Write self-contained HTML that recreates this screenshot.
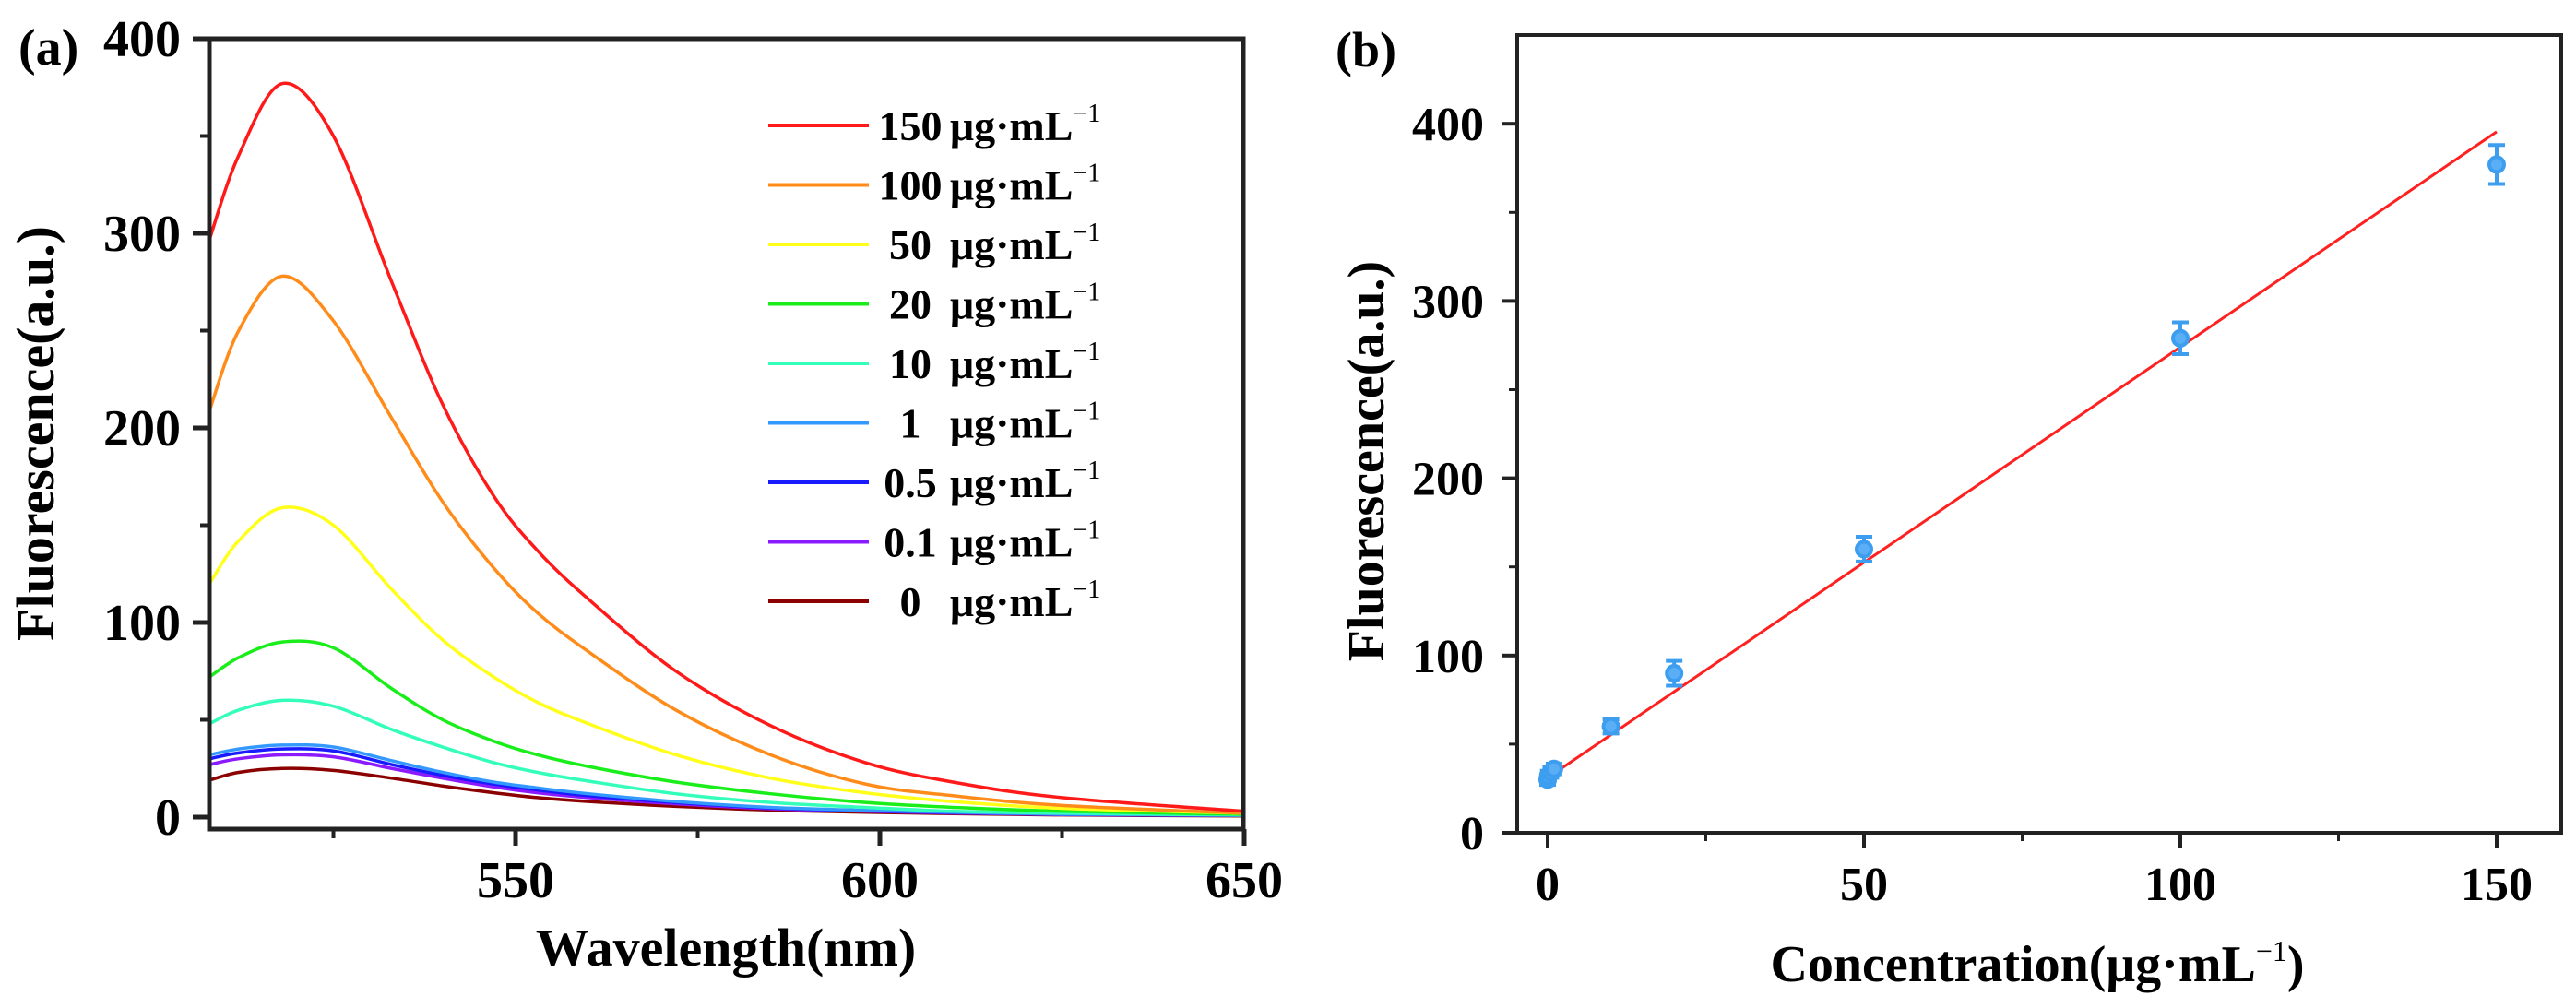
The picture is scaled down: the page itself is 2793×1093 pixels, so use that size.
<!DOCTYPE html>
<html><head><meta charset="utf-8"><style>
html,body{margin:0;padding:0;background:#fff;}
svg{display:block;font-family:"Liberation Serif",serif;font-weight:bold;}
</style></head><body>
<svg id="fig" width="2793" height="1093" viewBox="0 0 2793 1093" xmlns="http://www.w3.org/2000/svg">
<rect width="2793" height="1093" fill="#fff"/>
<g id="pa"></g>
<g id="pb"></g>
</svg>
<script>
// Panel (a) data
const waves = [508, 512, 518, 525, 533, 540, 547, 553, 560, 572, 585, 598, 610, 625, 650];
const s150 = [297, 340, 377, 350, 275, 212, 165, 137, 112, 75, 47, 28, 18, 10, 3];
const s100 = [209, 250, 278, 255, 205, 162, 128, 105, 85, 55, 32, 17, 11, 6, 2];
const s50 = [120, 142, 159, 150, 117, 91, 72, 59, 48, 32, 20, 12.5, 8, 4.5, 2];
const s20 = [72, 82, 90, 87, 66, 50, 39, 32, 26, 18, 12, 7.5, 5, 3, 1.5];
const s10 = [48, 55, 60, 57, 45, 36, 28, 23, 18.5, 12, 7.5, 5, 3, 2, 1];
const s1 = [32, 35, 37, 36, 29, 23, 18, 15, 12, 8, 5, 3.5, 2.5, 1.5, 1];
const s05 = [30, 33, 35, 34, 27, 21.5, 17, 14, 11, 7.5, 4.7, 3.2, 2.3, 1.4, 0.9];
const s01 = [27, 30, 32, 31, 25, 20, 15.5, 12.5, 10, 6.8, 4.3, 3, 2.1, 1.3, 0.8];
const s0 = [19, 23, 25, 24, 20, 16, 12.5, 10, 8, 5.5, 3.6, 2.5, 1.8, 1.1, 0.6];
const seriesLabels = ["150", "100", "50", "20", "10", "1", "0.5", "0.1", "0"];
const aYTicks = [0, 100, 200, 300, 400];
const aXTicks = [550, 600, 650];
// Panel (b) data
const concs = [0, 0.1, 0.5, 1, 10, 20, 50, 100, 150];
const fluor = [30, 32, 34, 36, 60, 90, 160, 279, 377];
const errs = [3, 3, 3, 3, 4, 7, 7, 9, 11];
const fitSlope = 2.43, fitIntercept = 31;
const bYTicks = [0, 100, 200, 300, 400];
const bXTicks = [0, 50, 100, 150];

const NS = "http://www.w3.org/2000/svg";
function mk(parent, tag, attrs, text) {
  const e = document.createElementNS(NS, tag);
  for (const k in attrs) e.setAttribute(k, attrs[k]);
  if (text !== undefined) e.textContent = text;
  parent.appendChild(e);
  return e;
}
const colors = ["#ff1a1a", "#ff8c1a", "#ffff1a", "#1aee1a", "#33ffbb", "#3399ff", "#1a1aff", "#8c1aff", "#8b0000"];
const allSeries = [s150, s100, s50, s20, s10, s1, s05, s01, s0];

// ---- Panel A ----
const pa = document.getElementById("pa");
const ax = { l: 227, r: 1348, t: 42, b: 899 };
const xA = w => 559 + (w - 550) * 7.9;
const yA = v => 886 - v * 2.11;
function smoothPath(pts) {
  let d = "M" + pts[0][0] + "," + pts[0][1];
  for (let i = 0; i < pts.length - 1; i++) {
    const p0 = pts[Math.max(i - 1, 0)], p1 = pts[i], p2 = pts[i + 1], p3 = pts[Math.min(i + 2, pts.length - 1)];
    const c1 = [p1[0] + (p2[0] - p0[0]) / 6, p1[1] + (p2[1] - p0[1]) / 6];
    const c2 = [p2[0] - (p3[0] - p1[0]) / 6, p2[1] - (p3[1] - p1[1]) / 6];
    d += "C" + c1 + " " + c2 + " " + p2;
  }
  return d;
}
for (let i = allSeries.length - 1; i >= 0; i--) {
  const pts = waves.map((w, j) => [xA(w), yA(allSeries[i][j])]);
  const p = mk(pa, "path", { d: smoothPath(pts), fill: "none", stroke: colors[i], "stroke-width": 3.5 });
  
  
}
const fa = mk(pa, "rect", { x: ax.l, y: ax.t, width: ax.r - ax.l, height: ax.b - ax.t, fill: "none", stroke: "#222", "stroke-width": 5 });


aYTicks.forEach(v => {
  mk(pa, "line", { x1: ax.l - 18, x2: ax.l, y1: yA(v), y2: yA(v), stroke: "#222", "stroke-width": 5 });
  const t = mk(pa, "text", { x: 196, y: yA(v) + 19, "text-anchor": "end", "font-size": 56 }, v);
  
  
});
[50, 150, 250, 350].forEach(v => mk(pa, "line", { x1: ax.l - 10, x2: ax.l, y1: yA(v), y2: yA(v), stroke: "#222", "stroke-width": 4 }));
aXTicks.forEach(w => {
  mk(pa, "line", { x1: xA(w), x2: xA(w), y1: ax.b, y2: ax.b + 18, stroke: "#222", "stroke-width": 5 });
  const t = mk(pa, "text", { x: xA(w), y: 973, "text-anchor": "middle", "font-size": 56 }, w);
  
  
});
[525, 575, 625].forEach(w => mk(pa, "line", { x1: xA(w), x2: xA(w), y1: ax.b, y2: ax.b + 10, stroke: "#222", "stroke-width": 4 }));
let t = mk(pa, "text", { x: 787, y: 1047, "text-anchor": "middle", "font-size": 58 }, "Wavelength(nm)");


t = mk(pa, "text", { x: 0, y: 0, transform: "translate(58,470) rotate(-90)", "text-anchor": "middle", "font-size": 58 }, "Fluorescence(a.u.)");


t = mk(pa, "text", { x: 20, y: 70, "font-size": 56 }, "(a)");


// legend
seriesLabels.forEach((lab, i) => {
  const y = 136 + i * 64.5;
  const g = mk(pa, "g", {});
  
  
  mk(g, "line", { x1: 833, x2: 942, y1: y, y2: y, stroke: colors[i], "stroke-width": 4 });
  mk(g, "text", { x: 987, y: y + 16, "text-anchor": "middle", "font-size": 46 }, lab);
  const tx = mk(g, "text", { x: 1030, y: y + 16, "font-size": 46 }, "μg·mL");
  mk(tx, "tspan", { dy: -20, "font-size": 28, "font-weight": "normal" }, "−1");
});

// ---- Panel B ----
const pb = document.getElementById("pb");
const bx = { l: 1645, r: 2777, t: 38, b: 903 };
const xB = c => 1678 + c * 6.86;
const yB = v => 903 - v * 1.922;
const fl = mk(pb, "line", { x1: xB(0), y1: yB(fitIntercept), x2: xB(150), y2: yB(fitIntercept + fitSlope * 150), stroke: "#ff2020", "stroke-width": 3 });


concs.forEach((c, i) => {
  const g = mk(pb, "g", { stroke: "#3d9ef0", "stroke-width": 4, fill: "#5aaef5" });
  
  
  const x = xB(c), y1 = yB(fluor[i] + errs[i]), y2 = yB(fluor[i] - errs[i]);
  mk(g, "line", { x1: x, x2: x, y1: y1, y2: y2 });
  mk(g, "line", { x1: x - 9, x2: x + 9, y1: y1, y2: y1 });
  mk(g, "line", { x1: x - 9, x2: x + 9, y1: y2, y2: y2 });
  mk(g, "circle", { cx: x, cy: yB(fluor[i]), r: 8 });
});
const fb = mk(pb, "rect", { x: bx.l, y: bx.t, width: bx.r - bx.l, height: bx.b - bx.t, fill: "none", stroke: "#222", "stroke-width": 4 });


bYTicks.forEach(v => {
  mk(pb, "line", { x1: bx.l - 16, x2: bx.l, y1: yB(v), y2: yB(v), stroke: "#222", "stroke-width": 4 });
  const t2 = mk(pb, "text", { x: 1609, y: yB(v) + 18, "text-anchor": "end", "font-size": 52 }, v);
  
  
});
[50, 150, 250, 350].forEach(v => mk(pb, "line", { x1: bx.l - 9, x2: bx.l, y1: yB(v), y2: yB(v), stroke: "#222", "stroke-width": 3 }));
bXTicks.forEach(c => {
  mk(pb, "line", { x1: xB(c), x2: xB(c), y1: bx.b, y2: bx.b + 16, stroke: "#222", "stroke-width": 4 });
  const t2 = mk(pb, "text", { x: xB(c), y: 976, "text-anchor": "middle", "font-size": 52 }, c);
  
  
});
[25, 75, 125].forEach(c => mk(pb, "line", { x1: xB(c), x2: xB(c), y1: bx.b, y2: bx.b + 9, stroke: "#222", "stroke-width": 3 }));
t = mk(pb, "text", { x: 2209, y: 1064, "text-anchor": "middle", "font-size": 56 }, "Concentration(μg·mL");
mk(t, "tspan", { dy: -22, "font-size": 32, "font-weight": "normal" }, "−1");
mk(t, "tspan", { dy: 22 }, ")");


t = mk(pb, "text", { x: 0, y: 0, transform: "translate(1500,500) rotate(-90)", "text-anchor": "middle", "font-size": 56 }, "Fluorescence(a.u.)");


t = mk(pb, "text", { x: 1448, y: 72, "font-size": 54 }, "(b)");


</script>
</body></html>
